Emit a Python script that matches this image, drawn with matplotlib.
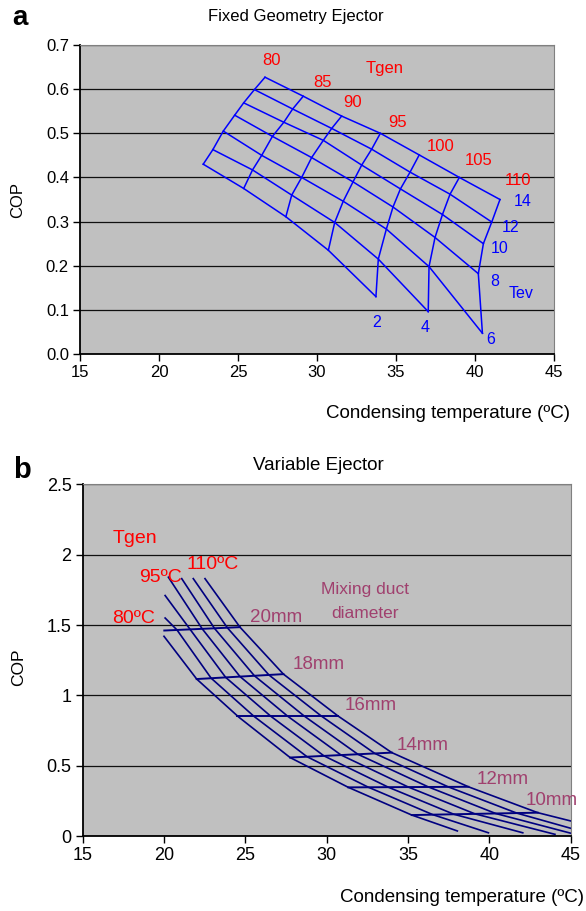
import numpy as np
import matplotlib
matplotlib.use("Agg")
import matplotlib.pyplot as plt

plt.rcParams['font.family'] = ['Liberation Sans', 'DejaVu Sans']

nan = np.nan

# ---------- (a) fixed geometry ejector ----------
tgen_a = [80, 85, 90, 95, 100, 105, 110]
tev_a = [2, 4, 6, 8, 10, 12, 14]
# rows = Tgen, columns = Tev 2..14 (nan = no working point)
tc_a = [
    [22.80, 23.41, 24.07, 24.79, 25.36, 26.04, 26.71],
    [25.36, 25.92, 26.50, 27.18, 27.90, 28.46, 29.13],
    [28.03, 28.40, 29.03, 29.66, 30.40, 30.93, 31.56],
    [30.72, 31.12, 31.66, 32.28, 32.83, 33.46, 34.01],
    [33.73, 33.88, 34.39, 34.81, 35.28, 35.89, 36.47],
    [nan,   37.04, 37.09, 37.47, 37.94, 38.42, 39.01],
    [nan,   nan,   40.47, 40.21, 40.53, 41.06, 41.58],
]
cop_a = [
    [0.430, 0.463, 0.505, 0.541, 0.569, 0.599, 0.627],
    [0.375, 0.417, 0.450, 0.493, 0.525, 0.555, 0.584],
    [0.311, 0.360, 0.400, 0.445, 0.484, 0.511, 0.539],
    [0.235, 0.298, 0.346, 0.390, 0.428, 0.464, 0.500],
    [0.130, 0.215, 0.283, 0.333, 0.374, 0.412, 0.451],
    [nan,   0.096, 0.198, 0.264, 0.316, 0.362, 0.400],
    [nan,   nan,   0.047, 0.182, 0.250, 0.299, 0.350],
]

# ---------- (b) variable ejector ----------
tgen_b = [80, 85, 90, 95, 100, 105, 110]
tc_b = [
    [20.00, 22.01, 24.60, 27.75, 31.33, 35.23, 38.03],
    [20.07, 20.80, 22.90, 25.53, 28.79, 32.56, 36.52, 39.94],
    [20.07, 21.60, 23.79, 26.57, 29.83, 33.79, 37.81, 42.05],
    [20.27, 22.35, 24.67, 27.60, 30.88, 35.02, 39.10, 44.03],
    [21.09, 23.10, 25.56, 28.63, 31.92, 36.25, 40.39, 45.00],
    [21.80, 23.90, 26.45, 29.67, 32.96, 37.48, 41.68, 45.00],
    [22.52, 24.67, 27.34, 30.70, 34.00, 38.71, 42.97, 45.00],
]
cop_b = [
    [1.42, 1.116, 0.845, 0.558, 0.346, 0.149, 0.036],
    [1.55, 1.465, 1.122, 0.851, 0.564, 0.347, 0.152, 0.023],
    [1.71, 1.470, 1.128, 0.851, 0.570, 0.347, 0.155, 0.023],
    [1.84, 1.473, 1.134, 0.852, 0.576, 0.348, 0.158, 0.012],
    [1.83, 1.477, 1.139, 0.852, 0.581, 0.349, 0.160, 0.020],
    [1.83, 1.480, 1.145, 0.853, 0.587, 0.349, 0.163, 0.055],
    [1.83, 1.485, 1.151, 0.853, 0.593, 0.350, 0.166, 0.107],
]
diam = [20, 18, 16, 14, 12, 10]
diam_x0 = [20.02, 22.01, 24.49, 27.75, 31.33, 35.23]
diam_x1 = [24.67, 27.34, 30.70, 34.00, 38.71, 42.97]
diam_y0 = [1.461, 1.116, 0.853, 0.558, 0.346, 0.149]
diam_y1 = [1.485, 1.151, 0.853, 0.593, 0.350, 0.166]
diam_lab_x = [26.9, 29.5, 32.7, 35.9, 40.8, 43.8]
diam_lab_y = [1.556, 1.222, 0.931, 0.647, 0.405, 0.256]


def excel_style(ax, fs):
    ax.set_facecolor('#C0C0C0')
    ax.grid(axis='y', color='#101010', linewidth=0.9)
    ax.set_axisbelow(True)
    for s in ['top', 'right']:
        ax.spines[s].set_color('#808080')
    for s in ['left', 'bottom']:
        ax.spines[s].set_linewidth(1.3)
    ax.tick_params(direction='out', length=5, width=1, labelsize=fs, pad=3)


fig = plt.figure(figsize=(5.86, 9.11), dpi=100)

# panel a
ax1 = fig.add_axes([0.1365, 0.6114, 0.8089, 0.3392])
excel_style(ax1, 12)
tc = np.array(tc_a)
cop = np.array(cop_a)
for i in range(len(tgen_a)):
    ax1.plot(tc[i], cop[i], color='#0000FF', lw=1.1)
for j in range(len(tev_a)):
    ok = ~np.isnan(tc[:, j])
    ax1.plot(tc[ok, j], cop[ok, j], color='#0000FF', lw=1.1)
ax1.set_xlim(15, 45)
ax1.set_ylim(0, 0.7)
ax1.set_xticks(range(15, 50, 5))
ax1.set_yticks(np.arange(0, 0.71, 0.1))
ax1.set_yticklabels(['%.1f' % v for v in np.arange(0, 0.71, 0.1)])

red = '#FF0000'
for lab, x, y in zip(tgen_a, [27.09, 30.32, 32.28, 35.13, 37.85, 40.25, 42.72],
                     [0.665, 0.615, 0.570, 0.525, 0.470, 0.439, 0.394]):
    ax1.text(x, y, str(lab), color=red, fontsize=12, ha='center', va='center')
ax1.text(34.3, 0.647, 'Tgen', color=red, fontsize=12, ha='center', va='center')
for lab, x, y in zip(tev_a, [33.80, 36.84, 41.01, 41.27, 41.58, 42.28, 43.04],
                     [0.072, 0.059, 0.032, 0.165, 0.238, 0.287, 0.346]):
    ax1.text(x, y, str(lab), color='#0000FF', fontsize=11.5, ha='center', va='center')
ax1.text(42.91, 0.136, 'Tev', color='#0000FF', fontsize=11.5, ha='center', va='center')

ax1.text(0.456, 1.091, 'Fixed Geometry Ejector', transform=ax1.transAxes,
         fontsize=12, ha='center', va='center')
ax1.text(1.034, -0.194, 'Condensing temperature (ºC)', transform=ax1.transAxes,
         fontsize=13.5, ha='right', va='center')
ax1.text(-0.131, 0.498, 'COP', transform=ax1.transAxes, rotation=90,
         fontsize=12, ha='center', va='center')
fig.text(0.034, 0.980, 'a', fontsize=20, fontweight='bold', ha='center', va='center')

# panel b
ax2 = fig.add_axes([0.141, 0.0823, 0.833, 0.386])
excel_style(ax2, 13)
navy = '#000080'
for i in range(len(tgen_b)):
    ax2.plot(tc_b[i], cop_b[i], color=navy, lw=1.2)
mauve = '#A0406E'
for k in range(len(diam)):
    ax2.plot([diam_x0[k], diam_x1[k]], [diam_y0[k], diam_y1[k]], color=navy, lw=1.4)
    ax2.text(diam_lab_x[k], diam_lab_y[k], '%dmm' % diam[k], color=mauve,
             fontsize=13.5, ha='center', va='center')
ax2.set_xlim(15, 45)
ax2.set_ylim(0, 2.5)
ax2.set_xticks(range(15, 50, 5))
ax2.set_yticks([0, 0.5, 1, 1.5, 2, 2.5])
ax2.set_yticklabels(['0', '0.5', '1', '1.5', '2', '2.5'])

ax2.text(18.22, 2.118, 'Tgen', color=red, fontsize=14, ha='center', va='center')
ax2.text(23.02, 1.933, '110ºC', color=red, fontsize=14, ha='center', va='center')
ax2.text(19.76, 1.841, '95ºC', color=red, fontsize=14, ha='center', va='center')
ax2.text(18.10, 1.549, '80ºC', color=red, fontsize=14, ha='center', va='center')
ax2.text(32.38, 1.755, 'Mixing duct', color=mauve, fontsize=12.5,
         ha='center', va='center')
ax2.text(32.38, 1.585, 'diameter', color=mauve, fontsize=12.5,
         ha='center', va='center')

ax2.text(0.482, 1.055, 'Variable Ejector', transform=ax2.transAxes,
         fontsize=13.5, ha='center', va='center')
ax2.text(1.027, -0.176, 'Condensing temperature (ºC)', transform=ax2.transAxes,
         fontsize=13.5, ha='right', va='center')
ax2.text(-0.132, 0.48, 'COP', transform=ax2.transAxes, rotation=90,
         fontsize=12.5, ha='center', va='center')
fig.text(0.0375, 0.484, 'b', fontsize=21, fontweight='bold', ha='center', va='center')

fig.savefig('out.png', dpi=100)
